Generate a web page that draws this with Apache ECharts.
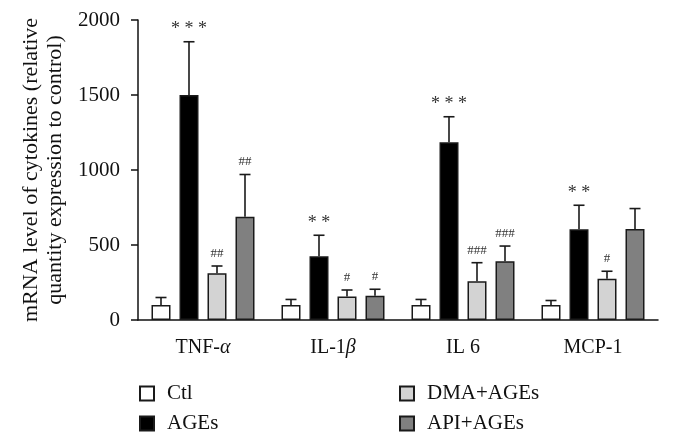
<!DOCTYPE html>
<html>
<head>
<meta charset="utf-8">
<script src="https://cdn.jsdelivr.net/npm/echarts@6/dist/echarts.min.js"></script>
<style>html,body{margin:0;padding:0;background:#fff}#c{width:673px;height:442px}</style>
</head>
<body>
<div id="c"></div>
<script>
var categories = ['TNF-α', 'IL-1β', 'IL 6', 'MCP-1'];
var seriesNames = ['Ctl', 'AGEs', 'DMA+AGEs', 'API+AGEs'];
var ctlValues = [100, 100, 100, 100];
var ctlErrTop = [150, 137, 137, 130];
var agesValues = [1500, 425, 1185, 605];
var agesErrTop = [1855, 565, 1355, 765];
var dmaValues = [312, 157, 258, 275];
var dmaErrTop = [360, 200, 382, 325];
var apiValues = [688, 162, 391, 607];
var apiErrTop = [970, 205, 493, 743];
var ctlSig = ['', '', '', ''];
var agesSig = ['***', '**', '***', '**'];
var dmaSig = ['##', '#', '###', '#'];
var apiSig = ['##', '#', '###', ''];
var yTicks = [0, 500, 1000, 1500, 2000];

var values = [ctlValues, agesValues, dmaValues, apiValues];
var errTops = [ctlErrTop, agesErrTop, dmaErrTop, apiErrTop];
var sigs = [ctlSig, agesSig, dmaSig, apiSig];
var colors = ['#ffffff', '#000000', '#d3d3d3', '#808080'];
var FONT = '"Liberation Serif", "DejaVu Serif", serif';
var BAR_W = 19, BAR_GAP = 9;

var chart = echarts.init(document.getElementById('c'), null, {renderer: 'canvas'});
var series = [];
values.forEach(function (vals, s) {
  series.push({
    name: seriesNames[s], type: 'bar', data: vals, barWidth: BAR_W, barGap: (BAR_GAP / BAR_W * 100) + '%',
    itemStyle: {color: colors[s], borderColor: '#1a1a1a', borderWidth: 1.5},
    z: 2
  });
});
values.forEach(function (vals, s) {
  var data = vals.map(function (v, i) { return [i, v, errTops[s][i], sigs[s][i]]; });
  series.push({
    type: 'custom', z: 1, silent: true,
    data: data,
    encode: {x: 0, y: [1, 2]},
    renderItem: function (params, api) {
      var i = api.value(0);
      var offset = (s - 1.5) * (BAR_W + BAR_GAP);
      var base = api.coord([i, api.value(1)]);
      var top = api.coord([i, api.value(2)]);
      var x = base[0] + offset;
      var cap = 5.5;
      var sig = data[params.dataIndex][3];
      var isStar = sig.indexOf('*') >= 0;
      var children = [
        {type: 'line', shape: {x1: x, y1: base[1], x2: x, y2: top[1]}, style: {stroke: '#1a1a1a', lineWidth: 1.6}},
        {type: 'line', shape: {x1: x - cap, y1: top[1], x2: x + cap, y2: top[1]}, style: {stroke: '#1a1a1a', lineWidth: 1.6}}
      ];
      if (sig) {
        children.push({type: 'text', style: {
          text: isStar ? sig.split('').join(' ') : sig,
          x: x, y: top[1] - (isStar ? 3 : 6),
          textAlign: 'center', textVerticalAlign: 'bottom',
          font: (isStar ? '18px ' : '13px ') + FONT, fill: '#333'
        }});
      }
      return {type: 'group', children: children};
    }
  });
});

chart.setOption({
  animation: false,
  backgroundColor: '#fff',
  grid: {left: 138, right: 15, top: 20, bottom: 122},
  legend: [
    {data: ['Ctl', 'AGEs'], orient: 'vertical', left: 134, top: 378, itemWidth: 14, itemHeight: 14, itemGap: 9, icon: 'rect',
     textStyle: {fontFamily: FONT, fontSize: 21, color: '#111', padding: [0, 0, 0, 8]}},
    {data: ['DMA+AGEs', 'API+AGEs'], orient: 'vertical', left: 394, top: 378, itemWidth: 14, itemHeight: 14, itemGap: 9, icon: 'rect',
     textStyle: {fontFamily: FONT, fontSize: 21, color: '#111', padding: [0, 0, 0, 8]}}
  ],
  xAxis: {
    type: 'category', data: categories,
    axisLine: {lineStyle: {color: '#111', width: 1.5}},
    axisTick: {alignWithLabel: true, length: 7, lineStyle: {color: '#111', width: 1.5}},
    axisLabel: {
      interval: 0, margin: 18, color: '#111', fontFamily: FONT, fontSize: 20,
      formatter: function (v) {
        var m = v.match(/^(.*?)([αβ])$/);
        return m ? '{n|' + m[1] + '}{g|' + m[2] + '}' : v;
      },
      rich: {n: {fontFamily: FONT, fontSize: 20, color: '#111'}, g: {fontFamily: FONT, fontSize: 20, fontStyle: 'italic', color: '#111'}}
    }
  },
  yAxis: {
    type: 'value', min: 0, max: 2000, interval: 500,
    name: 'mRNA level of cytokines (relative\nquantity expression to control)',
    nameLocation: 'middle', nameGap: 70, nameRotate: 90,
    nameTextStyle: {fontFamily: FONT, fontSize: 22, color: '#111', lineHeight: 24},
    axisLine: {show: true, lineStyle: {color: '#111', width: 1.5}},
    axisTick: {show: true, length: 7, lineStyle: {color: '#111', width: 1.5}},
    splitLine: {show: false},
    axisLabel: {margin: 18, color: '#111', fontFamily: FONT, fontSize: 21,
      formatter: function (v) { return yTicks.indexOf(v) >= 0 ? String(v) : ''; }}
  },
  series: series
});
</script>
</body>
</html>
